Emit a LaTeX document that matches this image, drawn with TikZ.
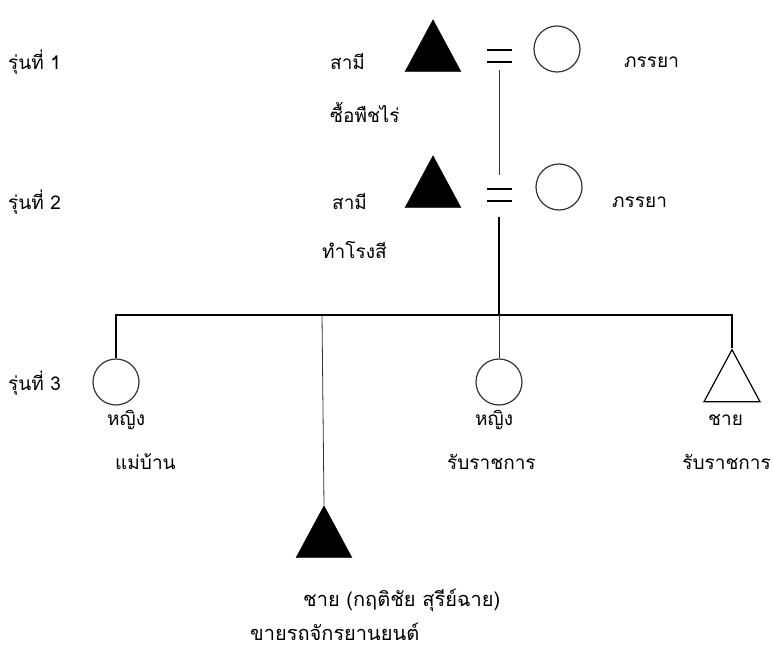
\documentclass[tikz,border=0pt]{standalone}
\usepackage{fontspec}
\newfontfamily\thaifont[Script=Thai]{Loma}
\usetikzlibrary{calc}
\usetikzlibrary{shapes.geometric}

\tikzset{
  male/.style={isosceles triangle, isosceles triangle stretches, shape border rotate=90,
    minimum width=56pt, minimum height=52pt, inner sep=0pt, fill=black, draw=black},
  maleopen/.style={male, fill=white, line width=1.2pt},
  female/.style={circle, draw=black!80, line width=1.2pt, minimum size=46pt, inner sep=0pt},
  lbl/.style={anchor=west, inner sep=0pt, font=\thaifont\fontsize{19}{19}\selectfont},
  lblwide/.style={lbl, font=\thaifont\fontsize{20}{20}\selectfont},
  kin/.style={line width=1.3pt},
  thinkin/.style={line width=0.8pt, black!80}
}

\begin{document}
\begin{tikzpicture}[x=1pt,y=-1pt]
\useasboundingbox (0,0) rectangle (773,650);

% generations
\node[lbl] (gen1) at (8,62) {รุ่นที่ 1};
\node[lbl] (gen2) at (8,202) {รุ่นที่ 2};
\node[lbl] (gen3) at (8,383) {รุ่นที่ 3};

% generation 1
\node[male] (t1) at (433,55) {};
\node[female] (c1) at (557,49) {};
\coordinate (eq1) at (499,56);
\draw[line width=2.5pt] ($(eq1)+(-12,-6)$) -- ++(25,0);
\draw[line width=2.5pt] ($(eq1)+(-12,6)$) -- ++(25,0);
\node[lbl] (h1) at (330,62) {สามี};
\node[lbl] (h1job) at (330,112) {ซื้อพืชไร่};
\node[lbl] (w1) at (624,62) {ภรรยา};

% generation 2
\node[male] (t2) at (433,191) {};
\node[female] (c2) at (559,187) {};
\coordinate (eq2) at (499,195);
\draw[line width=2.5pt] ($(eq2)+(-12,-6)$) -- ++(25,0);
\draw[line width=2.5pt] ($(eq2)+(-12,6)$) -- ++(25,0);
\node[lbl] (h2) at (332,202) {สามี};
\node[lbl] (h2job) at (322,250) {ทำโรงสี};
\node[lbl] (w2) at (612,202) {ภรรยา};

\draw[thinkin, shorten <=14pt, shorten >=20pt] (eq1) -- (eq2);

% generation 3
\coordinate (sib) at (499,315);
\coordinate (drop) at (322,315);
\node[female] (c31) at (116,382) {};
\node[male] (t32) at (324,541) {};
\node[female] (c33) at (499,382) {};
\node[maleopen] (t34) at (732,385) {};

\draw[kin, shorten <=22pt] (eq2) -- (sib);
\draw[kin] (c31.north) |- (sib) -| (t34.apex);
\draw[thinkin] (sib) -- (c33.north);
\draw[thinkin] (drop) -- (t32.apex);

\node[lbl] (c31a) at (107,420) {หญิง};
\node[lbl] (c31b) at (115,462) {แม่บ้าน};
\node[lbl] (c33a) at (475,420) {หญิง};
\node[lbl] (c33b) at (447,462) {รับราชการ};
\node[lbl] (t34a) at (708,420) {ชาย};
\node[lbl, anchor=east] (t34b) at (771,462) {รับราชการ};
\node[lblwide] (t32a) at (303,600) {ชาย (กฤติชัย สุรีย์ฉาย)};
\node[lblwide] (t32b) at (250,632) {ขายรถจักรยานยนต์};
\end{tikzpicture}
\end{document}
